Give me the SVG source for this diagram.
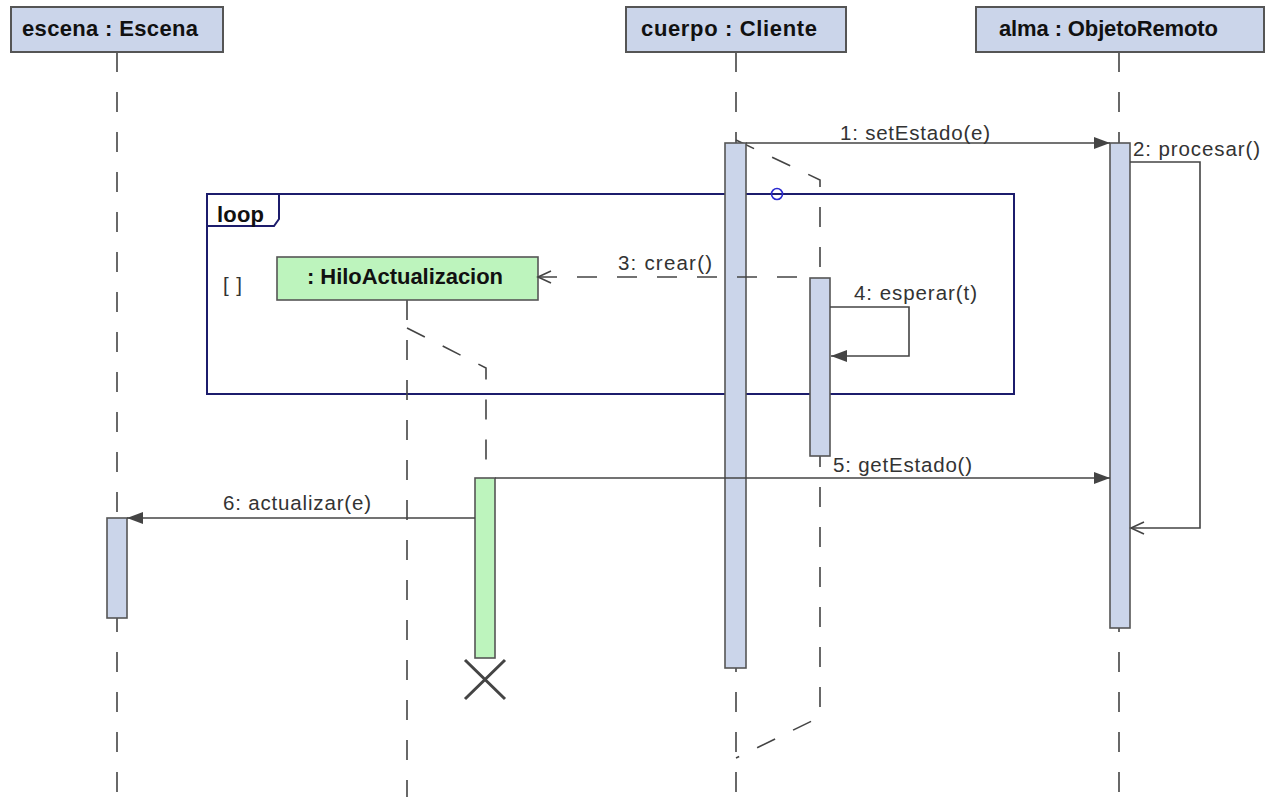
<svg xmlns="http://www.w3.org/2000/svg" width="1270" height="797" viewBox="0 0 1270 797">
<style>
  .hdr { fill: #cbd5ea; stroke: #555; stroke-width: 2; }
  .hdrtxt { font-family: "Liberation Sans", Arial, sans-serif; font-weight: bold; font-size: 22px; fill: #111; }
  .act { fill: #cbd5ea; stroke: #555; stroke-width: 1.6; }
  .actg { fill: #bdf4bd; stroke: #555; stroke-width: 1.6; }
  .life { fill: none; stroke: #444; stroke-width: 1.6; stroke-dasharray: 20 20; }
  .msg { fill: none; stroke: #444; stroke-width: 1.6; }
  .lbl { font-family: "Liberation Sans", Arial, sans-serif; font-size: 20.5px; fill: #333; }
  .frame { fill: none; stroke: #1c1c6c; stroke-width: 2; }
</style>
<defs>
  <marker id="filled" markerUnits="userSpaceOnUse" markerWidth="18" markerHeight="14" refX="16" refY="6" orient="auto">
    <path d="M0,0 L16,6 L0,12 z" fill="#444"/>
  </marker>
  <marker id="open" markerUnits="userSpaceOnUse" markerWidth="16" markerHeight="16" refX="14" refY="7" orient="auto">
    <path d="M1,1 L14,7 L1,13" fill="none" stroke="#444" stroke-width="1.6"/>
  </marker>
</defs>
<rect width="1270" height="797" fill="#fff"/>

<g id="loop-frame">
  <rect class="frame" x="207" y="194" width="807" height="200"/>
  <path class="frame" d="M207,226 H274 L279,219 V194"/>
  <text class="hdrtxt" x="217" y="222" font-size="19" textLength="47">loop</text>
  <text class="lbl" x="223" y="292" textLength="19">[ ]</text>
  <circle cx="777" cy="194" r="5.5" fill="none" stroke="#2a2ad0" stroke-width="1.6"/>
</g>

<g id="escena">
  <line class="life" x1="117" y1="52" x2="117" y2="797"/>
  <rect class="hdr" x="11" y="7" width="212" height="45"/>
  <text class="hdrtxt" x="22" y="36" textLength="176">escena : Escena</text>
  <rect class="act" x="107" y="518" width="20" height="100"/>
</g>

<g id="cuerpo">
  <line class="life" x1="736" y1="52" x2="736" y2="797"/>
  <path class="life" d="M736,140 L820,180 V717 L736,758"/>
  <rect class="hdr" x="626" y="7" width="220" height="45"/>
  <text class="hdrtxt" x="641" y="36" textLength="176">cuerpo : Cliente</text>
  <rect class="act" x="725" y="143" width="21" height="525"/>
  <rect class="act" x="810" y="278" width="20" height="178"/>
</g>

<g id="alma">
  <line class="life" x1="1119" y1="52" x2="1119" y2="797"/>
  <rect class="hdr" x="976" y="7" width="288" height="45"/>
  <text class="hdrtxt" x="999" y="36" textLength="219">alma : ObjetoRemoto</text>
  <rect class="act" x="1110" y="143" width="20" height="485"/>
</g>

<g id="hilo">
  <line class="life" x1="407" y1="300" x2="407" y2="797"/>
  <path class="life" d="M407,328 L486,368 V478"/>
  <rect class="actg" x="277" y="257" width="261" height="43"/>
  <text class="hdrtxt" x="307" y="284" textLength="196">: HiloActualizacion</text>
  <rect class="actg" x="475" y="478" width="20" height="180"/>
  <path d="M465,660 L505,699 M505,660 L465,699" stroke="#444" stroke-width="3" fill="none"/>
</g>

<g id="connectors">
  <line class="msg" x1="746" y1="143" x2="1110" y2="143" marker-end="url(#filled)"/>
  <text class="lbl" x="840" y="140" textLength="150">1:  setEstado(e)</text>

  <path class="msg" d="M1130,162 H1200 V528 H1131" marker-end="url(#open)"/>
  <text class="lbl" x="1133" y="156" textLength="127">2:  procesar()</text>

  <line class="msg" x1="810" y1="277" x2="538" y2="277" stroke-dasharray="20 20" stroke-dashoffset="27" marker-end="url(#open)"/>
  <text class="lbl" x="618" y="270" textLength="94">3:  crear()</text>

  <path class="msg" d="M830,307 H909 V356 H831" marker-end="url(#filled)"/>
  <text class="lbl" x="854" y="300" textLength="123">4:  esperar(t)</text>

  <line class="msg" x1="495" y1="478" x2="1110" y2="478" marker-end="url(#filled)"/>
  <text class="lbl" x="833" y="472" textLength="139">5:  getEstado()</text>

  <line class="msg" x1="475" y1="518" x2="127" y2="518" marker-end="url(#filled)"/>
  <text class="lbl" x="223" y="510" textLength="148">6:  actualizar(e)</text>
</g>
</svg>
